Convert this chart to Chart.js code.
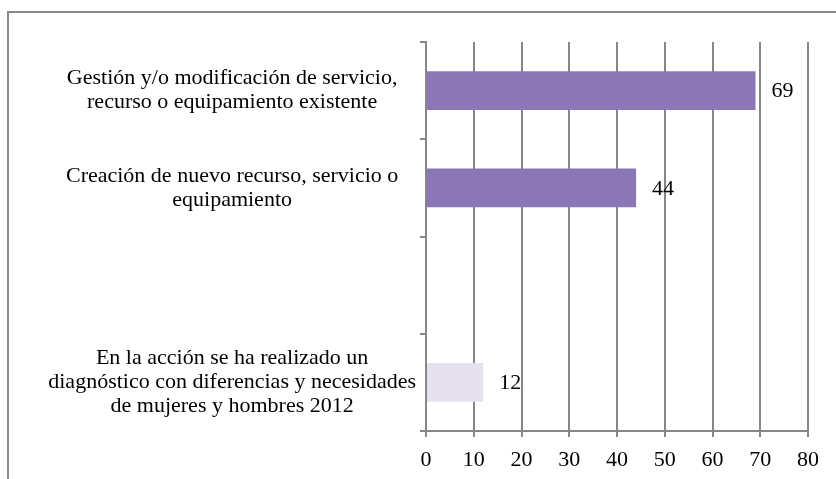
<!DOCTYPE html>
<html>
<head>
<meta charset="utf-8">
<script src="https://cdn.jsdelivr.net/npm/chart.js@4"></script>
<style>
  html, body { margin: 0; padding: 0; background: #fff; overflow: hidden; }
  #frame { position: absolute; left: 7px; top: 11px; width: 900px; height: 600px; border: 2px solid #8a8a8a; }
  #wrap { position: absolute; left: 0; top: 0; width: 836px; height: 479px; }
</style>
</head>
<body>
<div id="frame"></div>
<div id="wrap"><canvas id="chart"></canvas></div>
<script>
// categories, top to bottom (third slot is empty in the original)
const categories = [
  ['Gestión y/o modificación de servicio,', 'recurso o equipamiento existente'],
  ['Creación de nuevo recurso, servicio o', 'equipamiento'],
  '',
  ['En la acción se ha realizado un', 'diagnóstico con diferencias y necesidades', 'de mujeres y hombres 2012']
];
const values = [69, 44, null, 12];
const barColors = ['#8b77b5', '#8b77b5', '#8b77b5', '#e5e1ef'];
const xMin = 0;
const xMax = 80;
const xStep = 10;

const FONT = '"Liberation Serif", "DejaVu Serif", serif';
const GRID = '#868686';

// value labels just past the end of each bar
const valueLabels = {
  id: 'valueLabels',
  afterDatasetsDraw(chart) {
    const ctx = chart.ctx;
    const meta = chart.getDatasetMeta(0);
    ctx.save();
    ctx.font = '22px ' + FONT;
    ctx.fillStyle = '#000';
    ctx.textAlign = 'left';
    ctx.textBaseline = 'middle';
    meta.data.forEach((bar, i) => {
      if (values[i] == null) return;
      ctx.fillText(String(values[i]), bar.x + 16, bar.y + 1);
    });
    ctx.restore();
  }
};

const ctx = document.getElementById('chart').getContext('2d');
new Chart(ctx, {
  type: 'bar',
  data: {
    labels: categories,
    datasets: [{
      data: values,
      backgroundColor: barColors,
      borderWidth: 0,
      categoryPercentage: 1,
      barPercentage: 0.4
    }]
  },
  options: {
    indexAxis: 'y',
    responsive: true,
    maintainAspectRatio: false,
    animation: false,
    layout: { padding: { top: 42, right: 28, left: 0, bottom: 0 } },
    plugins: {
      legend: { display: false },
      tooltip: { enabled: false }
    },
    scales: {
      x: {
        min: xMin,
        max: xMax,
        ticks: {
          stepSize: xStep,
          color: '#000',
          padding: 10,
          maxRotation: 0,
          font: { family: FONT, size: 22 }
        },
        grid: { color: GRID, lineWidth: 2, tickLength: 6, drawTicks: true },
        border: { color: GRID, width: 2 },
        afterFit(scale) { scale.height = 48; }
      },
      y: {
        ticks: {
          color: '#000',
          padding: 4,
          crossAlign: 'center',
          font: { family: FONT, size: 22, lineHeight: 1.09 }
        },
        grid: { color: GRID, lineWidth: 2, tickLength: 6, drawOnChartArea: false, offset: true },
        border: { color: GRID, width: 2 },
        afterFit(scale) { scale.width = 426; }
      }
    }
  },
  plugins: [valueLabels]
});
</script>
</body>
</html>
